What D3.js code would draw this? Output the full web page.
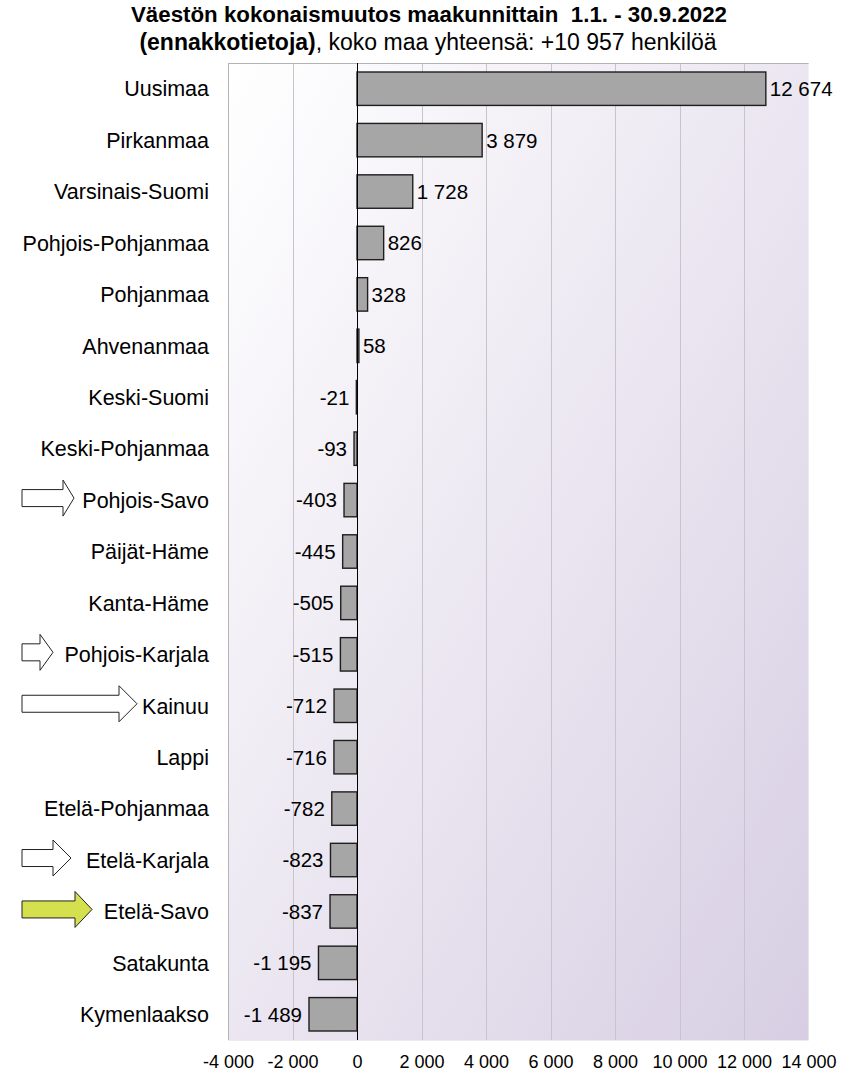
<!DOCTYPE html>
<html>
<head>
<meta charset="utf-8">
<script src="https://cdn.jsdelivr.net/npm/d3@7"></script>
<style>
  body { margin: 0; background: #fff; }
  svg { display: block; font-family: "Liberation Sans", Arial, sans-serif; }
</style>
</head>
<body>
<div class="bar-chart"></div>
<script>
// data
const regions = [
  "Uusimaa", "Pirkanmaa", "Varsinais-Suomi", "Pohjois-Pohjanmaa", "Pohjanmaa",
  "Ahvenanmaa", "Keski-Suomi", "Keski-Pohjanmaa", "Pohjois-Savo", "Päijät-Häme",
  "Kanta-Häme", "Pohjois-Karjala", "Kainuu", "Lappi", "Etelä-Pohjanmaa",
  "Etelä-Karjala", "Etelä-Savo", "Satakunta", "Kymenlaakso"
]
const changes = [
  12674, 3879, 1728, 826, 328,
  58, -21, -93, -403, -445,
  -505, -515, -712, -716, -782,
  -823, -837, -1195, -1489
]
const xTicks = [-4000, -2000, 0, 2000, 4000, 6000, 8000, 10000, 12000, 14000]
// regions marked with an arrow in front of the label
const arrowRegions = ["Pohjois-Savo", "Pohjois-Karjala", "Kainuu", "Etelä-Karjala", "Etelä-Savo"]
const arrowHighlight = ["Etelä-Savo"]

const titleLine1 = "Väestön kokonaismuutos maakunnittain  1.1. - 30.9.2022"
const titleBold2 = "(ennakkotietoja)"
const titleRest2 = ", koko maa yhteensä: +10 957 henkilöä"

const init = () => {
  const width = 843
  const height = 1073
  const margin = { top: 63, bottom: 33, left: 228, right: 33 }

  // arrow shapes (px): tip x, head length
  const arrowShape = {
    "Pohjois-Savo": { tip: 74, head: 11 },
    "Pohjois-Karjala": { tip: 53, head: 13 },
    "Kainuu": { tip: 137, head: 18 },
    "Etelä-Karjala": { tip: 71, head: 18 },
    "Etelä-Savo": { tip: 92, head: 17 }
  }

  const data = regions.map((r, i) => ({ region: r, value: changes[i] }))

  const locale = d3.formatLocale({ decimal: ",", thousands: "\u00a0", grouping: [3], currency: ["", "€"], minus: "-" })
  const fmt = locale.format(",d")

  const svg = d3.select('.bar-chart')
    .append('svg')
    .attr("width", width)
    .attr("height", height)

  const xScale = d3.scaleLinear()
    .domain([-4000, 14000])
    .range([margin.left, width - margin.right - 1.4])

  const yScale = d3.scaleBand()
    .domain(regions)
    .range([margin.top, height - margin.bottom])
    .paddingInner(0.35)
    .paddingOuter(0.175)

  // plot background gradient
  const grad = svg.append("defs").append("linearGradient")
    .attr("id", "bg")
    .attr("x1", 0).attr("y1", 0).attr("x2", 1).attr("y2", 1)
  grad.append("stop").attr("offset", 0).attr("stop-color", "#ffffff")
  grad.append("stop").attr("offset", 1).attr("stop-color", "#d7cee3")

  const x0 = xScale(-4000), x1 = xScale(14000)
  const y0 = margin.top, y1 = height - margin.bottom

  svg.append("rect")
    .attr("x", x0).attr("y", y0)
    .attr("width", x1 - x0).attr("height", y1 - y0)
    .attr("fill", "url(#bg)")

  // gridlines
  svg.append("g")
    .selectAll("line")
    .data(xTicks.filter(d => d !== 0 && d !== -4000 && d !== 14000))
    .join("line")
    .attr("x1", d => Math.round(xScale(d)) + 0.5)
    .attr("x2", d => Math.round(xScale(d)) + 0.5)
    .attr("y1", y0).attr("y2", y1)
    .attr("stroke", "#c8c4cc")

  // plot frame
  svg.append("line").attr("x1", x0 + 0.5).attr("x2", x0 + 0.5).attr("y1", y0).attr("y2", y1).attr("stroke", "#b4b4b4")
  svg.append("line").attr("x1", x0).attr("x2", x1).attr("y1", y0 + 0.5).attr("y2", y0 + 0.5).attr("stroke", "#b4b4b4")
  svg.append("line").attr("x1", x0).attr("x2", x1).attr("y1", y1 + 0.5).attr("y2", y1 + 0.5).attr("stroke", "#ececec")

  // bars
  svg.selectAll(".bar")
    .data(data)
    .join("rect")
    .attr("class", "bar")
    .attr("x", d => xScale(Math.min(0, d.value)))
    .attr("y", d => yScale(d.region))
    .attr("width", d => Math.abs(xScale(d.value) - xScale(0)))
    .attr("height", yScale.bandwidth())
    .attr("fill", "#a6a6a6")
    .attr("stroke", "#1e1e1e")
    .attr("stroke-width", 1.4)

  // zero line
  svg.append("line")
    .attr("x1", Math.round(xScale(0)) + 0.5).attr("x2", Math.round(xScale(0)) + 0.5)
    .attr("y1", y0).attr("y2", y1)
    .attr("stroke", "#000")

  // value labels
  svg.selectAll(".value")
    .data(data)
    .join("text")
    .attr("class", "value")
    .attr("x", d => d.value >= 0 ? xScale(d.value) + 4 : xScale(d.value) - 7)
    .attr("y", d => yScale(d.region) + yScale.bandwidth() / 2)
    .attr("dy", "0.36em")
    .attr("text-anchor", d => d.value >= 0 ? "start" : "end")
    .attr("font-size", 20.5)
    .attr("fill", "#000")
    .text(d => fmt(d.value))

  // category labels
  svg.selectAll(".cat")
    .data(regions)
    .join("text")
    .attr("class", "cat")
    .attr("x", 209)
    .attr("y", d => yScale(d) + yScale.bandwidth() / 2)
    .attr("dy", "0.36em")
    .attr("text-anchor", "end")
    .attr("font-size", 21.5)
    .attr("fill", "#000")
    .text(d => d)

  // arrows in front of some labels
  const shaftH = 17, headH = 36, startX = 22
  svg.selectAll(".arrow")
    .data(arrowRegions)
    .join("path")
    .attr("class", "arrow")
    .attr("d", d => {
      const cy = yScale(d) + yScale.bandwidth() / 2 - 2
      const s = arrowShape[d]
      const hx = s.tip - s.head
      return `M${startX},${cy - shaftH / 2} L${hx},${cy - shaftH / 2} L${hx},${cy - headH / 2} ` +
        `L${s.tip},${cy} L${hx},${cy + headH / 2} L${hx},${cy + shaftH / 2} L${startX},${cy + shaftH / 2} Z`
    })
    .attr("fill", d => arrowHighlight.includes(d) ? "#d4e04e" : "#fff")
    .attr("stroke", "#222")
    .attr("stroke-width", 1)

  // x axis
  const xAxis = d3.axisBottom(xScale)
    .tickValues(xTicks)
    .tickFormat(fmt)
    .tickSize(0)
    .tickPadding(15)

  const gx = svg.append("g")
    .attr("transform", `translate(0,${y1})`)
    .call(xAxis)
  gx.select(".domain").remove()
  gx.selectAll("text")
    .attr("font-size", 18)
    .attr("font-family", "Liberation Sans, Arial, sans-serif")
    .attr("fill", "#000")

  // title
  const title = svg.append("g").attr("font-size", 22.3).attr("fill", "#000")
  title.append("text")
    .attr("x", 429).attr("y", 22)
    .attr("text-anchor", "middle")
    .attr("font-weight", "bold")
    .style("white-space", "pre")
    .text(titleLine1)
  const t2 = title.append("text")
    .attr("x", 428).attr("y", 50)
    .attr("text-anchor", "middle")
    .attr("font-size", 23)
  t2.append("tspan").attr("font-weight", "bold").text(titleBold2)
  t2.append("tspan").text(titleRest2)
}

init()
</script>
</body>
</html>
